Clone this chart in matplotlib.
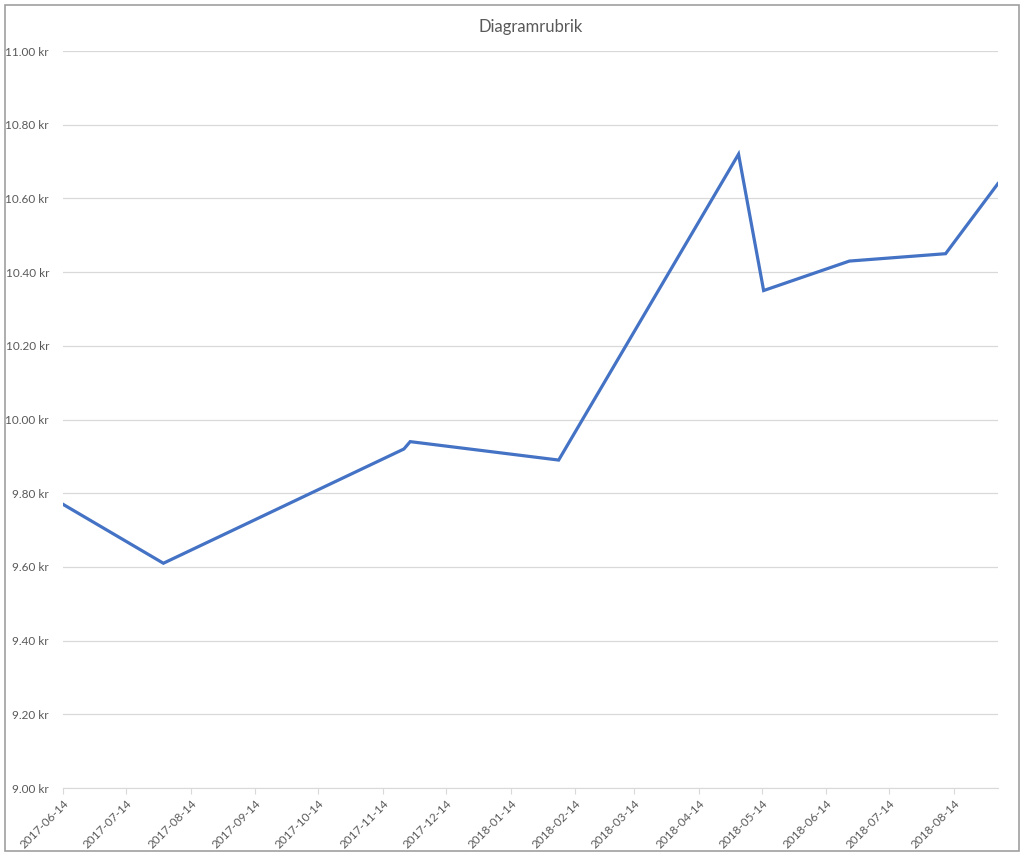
import numpy as np
import pandas as pd
import matplotlib
matplotlib.use('Agg')
import matplotlib.pyplot as plt
import matplotlib.dates as mdates
from matplotlib.patches import Rectangle

# data
dates = ['2017-06-14', '2017-08-01', '2017-11-24', '2017-11-27', '2018-02-06',
         '2018-05-03', '2018-05-15', '2018-06-25', '2018-08-10', '2018-09-04']
prices = [9.77, 9.61, 9.92, 9.94, 9.89, 10.72, 10.35, 10.43, 10.45, 10.64]

tick_dates = ['2017-06-14', '2017-07-14', '2017-08-14', '2017-09-14', '2017-10-14',
              '2017-11-14', '2017-12-14', '2018-01-14', '2018-02-14', '2018-03-14',
              '2018-04-14', '2018-05-14', '2018-06-14', '2018-07-14', '2018-08-14']
y_ticks = [9.0, 9.2, 9.4, 9.6, 9.8, 10.0, 10.2, 10.4, 10.6, 10.8, 11.0]

title = 'Diagramrubrik'

plt.rcParams['font.family'] = ['Lato', 'DejaVu Sans']
text_color = '#595959'
grid_color = '#d9d9d9'

x = pd.to_datetime(dates)
xt = pd.to_datetime(tick_dates)

fig = plt.figure(figsize=(10.24, 8.56), dpi=100)
ax = fig.add_axes([0.0615, 0.0794, 0.913, 0.861])

ax.plot(x, prices, color='#4472C4', linewidth=2.3, solid_joinstyle='miter')

ax.set_xlim(x[0], x[-1])
ax.set_ylim(9.0, 11.0)
ax.set_yticks(y_ticks)
ax.set_yticklabels(['%.2f kr' % v for v in y_ticks])
ax.set_xticks(xt)
ax.set_xticklabels([d for d in tick_dates], rotation=45, ha='right', rotation_mode='anchor')

ax.grid(axis='y', color=grid_color, linewidth=0.9)
ax.set_axisbelow(True)
for s in ['top', 'right', 'left']:
    ax.spines[s].set_visible(False)
ax.spines['bottom'].set_color(grid_color)
ax.tick_params(axis='y', length=0, pad=10, labelsize=8.5, labelcolor=text_color)
ax.tick_params(axis='x', length=4, color=grid_color, pad=3, labelsize=8.5, labelcolor=text_color)

ax.set_title(title, fontsize=12, color=text_color, pad=14)

# chart frame like the selected excel chart
fig.patches.append(Rectangle((0.005, 0.006), 0.99, 0.988, transform=fig.transFigure,
                             fill=False, edgecolor='#a0a0a0', linewidth=1.2))

fig.savefig('out.png', dpi=100, facecolor='white')
